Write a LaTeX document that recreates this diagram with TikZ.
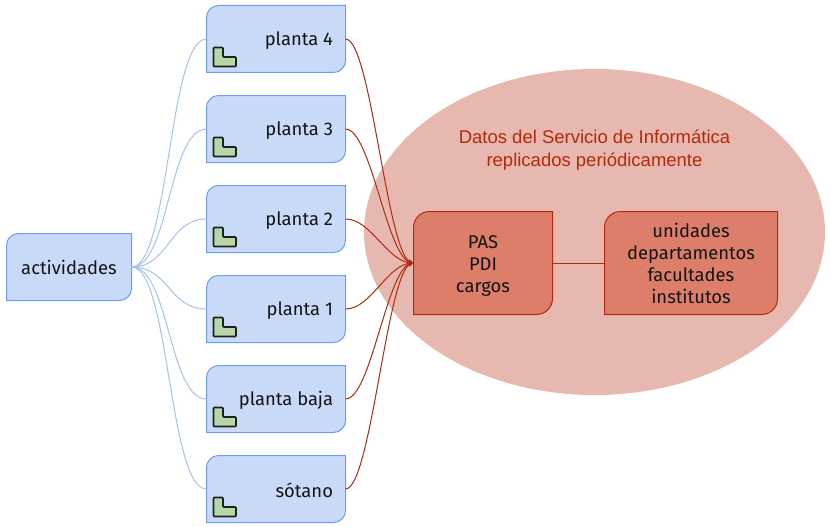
\documentclass[tikz,border=0pt]{standalone}
\usepackage{fontspec}
\setmainfont{Fira Sans}
\newfontfamily\titlefont{Liberation Sans}
\usetikzlibrary{shapes.geometric,arrows.meta}
\definecolor{bluefill}{HTML}{C9DAF8}
\definecolor{blueline}{HTML}{6D9EEB}
\definecolor{bluecurve}{HTML}{A4C2F4}
\definecolor{redline}{HTML}{B32A0C}
\definecolor{redfill}{HTML}{DD7E6B}
\definecolor{ovalfill}{HTML}{E6B8AF}
\definecolor{iconfill}{HTML}{B6D7A8}
\tikzset{
  x=1pt,y=-1pt,
  bluebox/.style={draw=blueline,fill=bluefill,line width=1pt},
  redbox/.style={draw=redline,fill=redfill,line width=1pt},
  label/.style={inner sep=0pt,outer sep=0pt,text=black!92,font=\fontsize{18.4}{22}\selectfont,align=center},
  blue link/.style={draw=bluecurve,line width=1pt},
  red link/.style={draw=redline,line width=1pt},
  red tip/.style={-{Straight Barb[length=4pt,width=6pt,line width=0.8pt]}},
  icon/.style={draw=black!88,fill=iconfill,line width=1.7pt,rounded corners=0.8pt,line join=round},
}
\newcommand{\plantbox}[3]{%
  \pgfmathsetmacro{\boxbottom}{#3+67}
  \pgfmathsetmacro{\boxmiddle}{#3+33.5}
  \pgfmathsetmacro{\boxtext}{#3+35}
  \path[bluebox] (218.5,#3) -- (345.5,#3) [rounded corners=12pt] -- (345.5,\boxbottom) [sharp corners] -- (206.5,\boxbottom) [rounded corners=12pt] -- (206.5,#3) [sharp corners] -- cycle;
  \node[inner sep=0pt,outer sep=0pt,minimum width=139pt,minimum height=67pt] (#1) at (276,\boxmiddle) {};
  \node[label,anchor=east] (#1-text) at (333,\boxtext) {#2};
  \path[icon] ([shift={(7,8.5)}]#1.west) -- ++(9.5,0) -- ++(0,9.5) -- ++(13,0) -- ++(0,9.5) -- ++(-22.5,0) -- cycle;
}
\begin{document}
\begin{tikzpicture}
\useasboundingbox (0,0) rectangle (830,527);
\node[ellipse,fill=ovalfill,inner sep=0pt,minimum width=461pt,minimum height=326pt] (oval) at (594.5,232) {};
\node[inner sep=0pt,text=redline,align=center,font=\titlefont\fontsize{18.5}{23}\selectfont] (title) at (594.5,150) {Datos del Servicio de Informática\\replicados periódicamente};

\plantbox{p4}{planta 4}{5.5}
\plantbox{p3}{planta 3}{95.5}
\plantbox{p2}{planta 2}{185.5}
\plantbox{p1}{planta 1}{275.5}
\plantbox{pb}{planta baja}{365.5}
\plantbox{so}{sótano}{455.5}

% actividades
\path[bluebox] (18.5,233.5) -- (131.5,233.5) [rounded corners=12pt] -- (131.5,300.5) [sharp corners] -- (6.5,300.5) [rounded corners=12pt] -- (6.5,233.5) [sharp corners] -- cycle;
\node[label,minimum width=125pt,minimum height=67pt] (act) at (69,267) {actividades};

% PAS
\path[redbox] (429.5,211.5) -- (552.5,211.5) [rounded corners=16pt] -- (552.5,314.5) [sharp corners] -- (413.5,314.5) [rounded corners=16pt] -- (413.5,211.5) [sharp corners] -- cycle;
\node[label,minimum width=139pt,minimum height=103pt,yshift=-3.5pt] (pastext) at (483,263) {PAS\\PDI\\cargos};
\node[inner sep=0pt,outer sep=0pt,minimum width=139pt,minimum height=103pt] (pas) at (483,263) {};

% unidades
\path[redbox] (620.5,211.5) -- (777.5,211.5) [rounded corners=16pt] -- (777.5,314.5) [sharp corners] -- (604.5,314.5) [rounded corners=16pt] -- (604.5,211.5) [sharp corners] -- cycle;
\node[label,minimum width=173pt,minimum height=103pt] (uni) at (691,263) {unidades\\departamentos\\facultades\\institutos};

\foreach \n in {p4,p3,p2,p1,pb,so}{
  \draw[blue link] (act.east) .. controls +(38,0) and +(-38,0) .. (\n.west);
  \draw[red link,red tip] (\n.east) .. controls +(26,0) and +(-26,0) .. (pas.west);
}
\draw[red link] (pas.east) -- (uni.west);
\end{tikzpicture}
\end{document}
